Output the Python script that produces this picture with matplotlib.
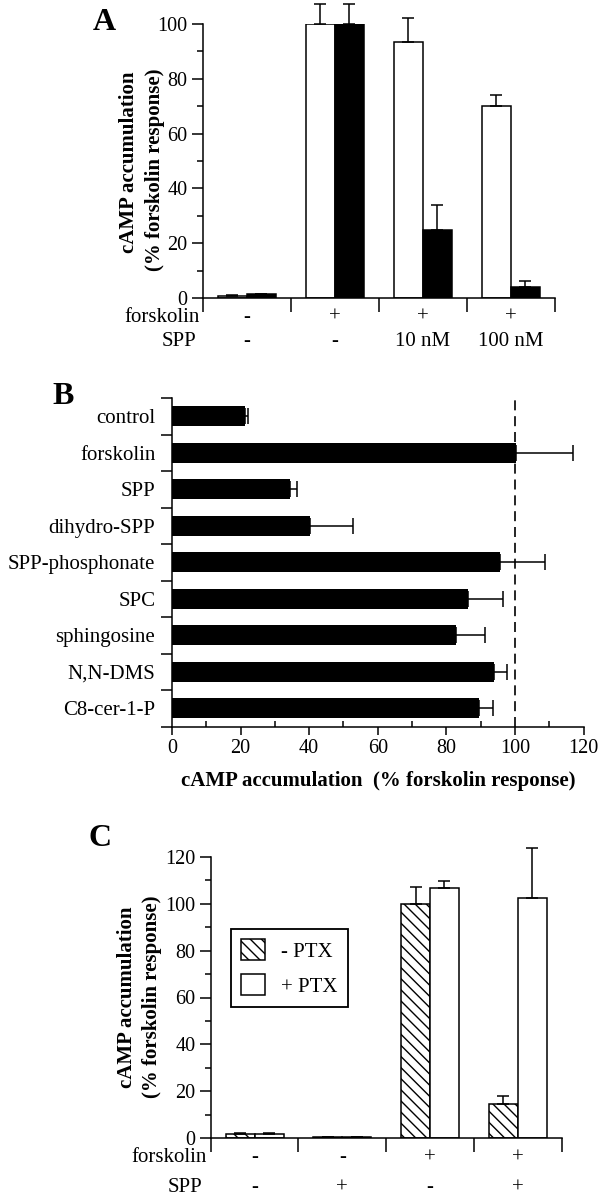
import matplotlib
matplotlib.use("Agg")
import matplotlib.pyplot as plt
import matplotlib.transforms as mtransforms
from matplotlib.patches import Patch
import numpy as np

plt.rcParams['font.family'] = ['Liberation Serif', 'DejaVu Serif']
plt.rcParams['hatch.linewidth'] = 1.0

# panel A data
a_forsk = ["-", "+", "+", "+"]
a_spp = ["-", "-", "10 nM", "100 nM"]
a_white = [0.8, 100, 93.5, 70.2]
a_white_err = [0.3, 7.3, 8.8, 4.0]
a_black = [1.3, 100, 25.0, 4.0]
a_black_err = [0.3, 7.3, 9.0, 2.2]

# panel B data
b_labels = ["control", "forskolin", "SPP", "dihydro-SPP", "SPP-phosphonate",
            "SPC", "sphingosine", "N,N-DMS", "C8-cer-1-P"]
b_vals = [21.4, 100.3, 34.5, 40.2, 95.6, 86.4, 82.9, 93.9, 89.5]
b_err = [0.8, 16.6, 2.0, 12.6, 13.2, 10.0, 8.4, 3.7, 4.2]

# panel C data
c_forsk = ["-", "-", "+", "+"]
c_spp = ["-", "+", "-", "+"]
c_nopt = [1.8, 0.4, 100, 14.6]
c_nopt_err = [0.4, 0.2, 7.0, 3.5]
c_pt = [1.8, 0.5, 106.5, 102.5]
c_pt_err = [0.6, 0.2, 3.0, 21.3]

W, H = 600, 1199
fig = plt.figure(figsize=(W / 100, H / 100), dpi=100)
FS = 15
TFS = 14.5
LW = 1.1


def add_ax(l, t, r, b):
    return fig.add_axes([l / W, 1 - b / H, (r - l) / W, (b - t) / H])


def ftext(x, y, s, **kw):
    fig.text(x / W, 1 - y / H, s, **kw)


def style_vbar(ax, ymax):
    for s in ["top", "right"]:
        ax.spines[s].set_visible(False)
    for s in ["left", "bottom"]:
        ax.spines[s].set_linewidth(LW)
    ax.set_xlim(0, 4)
    ax.set_ylim(0, ymax)
    ax.set_xticks([0, 1, 2, 3, 4])
    ax.set_xticklabels([])
    ax.set_yticks(np.arange(0, ymax + 1, 20))
    ax.set_yticks(np.arange(10, ymax, 20), minor=True)
    ax.tick_params(axis="x", direction="out", length=10, width=LW)
    ax.tick_params(axis="y", which="major", direction="out", length=8, width=LW,
                   labelsize=TFS, pad=3)
    ax.tick_params(axis="y", which="minor", direction="out", length=4, width=LW)


def row_text(ax, labels_f, labels_s, yf, ys, xlab):
    tr = mtransforms.blended_transform_factory(ax.transData, fig.transFigure)
    for i, (f, s) in enumerate(zip(labels_f, labels_s)):
        ax.text(i + 0.5, 1 - yf / H, f, transform=tr, ha="center", va="center", fontsize=FS)
        ax.text(i + 0.5, 1 - ys / H, s, transform=tr, ha="center", va="center", fontsize=FS)
    ftext(xlab[0], yf, "forskolin", ha="right", va="center", fontsize=FS)
    ftext(xlab[1], ys, "SPP", ha="right", va="center", fontsize=FS)


x = np.arange(4) + 0.5
bw = 0.33
ekw = dict(fmt="none", ecolor="k", elinewidth=LW, capsize=4.4, capthick=LW, clip_on=False, zorder=3)

# ---- A ----
axA = add_ax(202.7, 24, 554.6, 298)
style_vbar(axA, 100)
axA.bar(x - bw / 2, a_white, bw, color="white", edgecolor="k", linewidth=LW, zorder=2)
axA.bar(x + bw / 2, a_black, bw, color="black", edgecolor="k", linewidth=LW, zorder=2)
axA.errorbar(x - bw / 2, a_white, yerr=[np.zeros(4), a_white_err], **ekw)
axA.errorbar(x + bw / 2, a_black, yerr=[np.zeros(4), a_black_err], **ekw)
row_text(axA, a_forsk, a_spp, 317, 342, (200, 196))
ftext(129, 162, "cAMP accumulation", rotation=90, ha="center", va="center",
      fontsize=FS, fontweight="bold")
ftext(155, 170, "(% forskolin response)", rotation=90, ha="center", va="center",
      fontsize=FS, fontweight="bold")
ftext(104, 22, "A", ha="center", va="center", fontsize=23, fontweight="bold")

# ---- B ----
axB = add_ax(172, 398, 583.5, 726.7)
yb = np.arange(len(b_labels)) + 0.5
axB.barh(yb, b_vals, 0.55, color="black", zorder=2)
axB.errorbar(b_vals, yb, xerr=[np.zeros(len(b_vals)), b_err], fmt="none", ecolor="k",
             elinewidth=LW, capsize=5.5, capthick=LW, clip_on=False, zorder=3)
axB.axvline(100, color="k", lw=1.2, ls=(0, (6, 3.5)), zorder=1)
axB.set_xlim(0, 120)
axB.set_ylim(len(b_labels), 0)
for s in ["top", "right"]:
    axB.spines[s].set_visible(False)
for s in ["left", "bottom"]:
    axB.spines[s].set_linewidth(LW)
axB.set_yticks(np.arange(len(b_labels) + 1))
axB.set_yticklabels([])
axB.set_yticks(yb, minor=True)
axB.set_yticklabels(b_labels, minor=True)
axB.tick_params(axis="y", which="major", direction="out", length=8, width=LW)
axB.tick_params(axis="y", which="minor", length=0, labelsize=FS, pad=12)
axB.set_xticks(np.arange(0, 121, 20))
axB.set_xticks(np.arange(10, 120, 20), minor=True)
axB.tick_params(axis="x", which="major", direction="out", length=6, width=LW,
                labelsize=TFS, pad=3)
axB.tick_params(axis="x", which="minor", direction="in", length=4, width=LW)
ftext(378, 781, "cAMP accumulation  (% forskolin response)", ha="center", va="center",
      fontsize=FS, fontweight="bold")
ftext(63, 397, "B", ha="center", va="center", fontsize=23, fontweight="bold")

# ---- C ----
axC = add_ax(210.8, 856.7, 561.5, 1138.3)
style_vbar(axC, 120)
axC.bar(x - bw / 2, c_nopt, bw, color="white", edgecolor="k", hatch="\\\\\\",
        linewidth=LW, zorder=2, label="- PTX")
axC.bar(x + bw / 2, c_pt, bw, color="white", edgecolor="k", linewidth=LW, zorder=2,
        label="+ PTX")
axC.errorbar(x - bw / 2, c_nopt, yerr=[np.zeros(4), c_nopt_err], **ekw)
axC.errorbar(x + bw / 2, c_pt, yerr=[np.zeros(4), c_pt_err], **ekw)
row_text(axC, c_forsk, c_spp, 1158, 1188, (206.5, 202))
ftext(127, 997, "cAMP accumulation", rotation=90, ha="center", va="center",
      fontsize=FS, fontweight="bold")
ftext(152, 997, "(% forskolin response)", rotation=90, ha="center", va="center",
      fontsize=FS, fontweight="bold")
ftext(100, 838, "C", ha="center", va="center", fontsize=23, fontweight="bold")

handles = [Patch(facecolor="white", edgecolor="k", hatch="\\\\\\", linewidth=LW, label="- PTX"),
           Patch(facecolor="white", edgecolor="k", linewidth=LW, label="+ PTX")]
leg = axC.legend(handles=handles, loc="upper left", bbox_to_anchor=(230.8 / W, 1 - 929 / H),
                 bbox_transform=fig.transFigure, borderaxespad=0, fancybox=False,
                 edgecolor="k", framealpha=1, fontsize=FS, handlelength=1.15,
                 handleheight=1.15, handletextpad=0.75, labelspacing=0.6, borderpad=0.5)
leg.get_frame().set_linewidth(LW * 1.2)

fig.savefig("out.png", dpi=100)
